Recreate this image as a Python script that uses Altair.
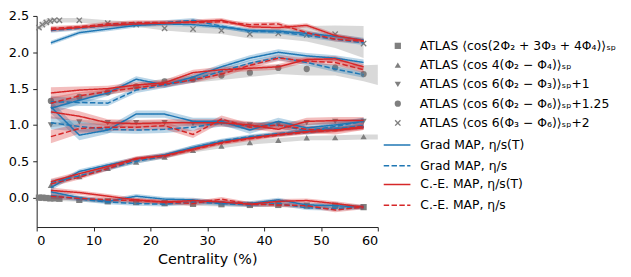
import altair as alt
import pandas as pd

# ---------------- data ----------------
cent = [2.5, 7.5, 12.5, 17.5, 22.5, 27.5, 32.5, 37.5, 42.5, 47.5, 52.5, 57.5]

models = ["Grad MAP, η/s(T)", "Grad MAP, η/s", "C.-E. MAP, η/s(T)", "C.-E. MAP, η/s"]
model_colors = ["#1f77b4", "#1f77b4", "#d62728", "#d62728"]
dash_pair = [[1, 0], [5.5, 2.4]]

obs = [
    "ATLAS ⟨cos(2Φ₂ + 3Φ₃ + 4Φ₄)⟩ₛₚ",
    "ATLAS ⟨cos 4(Φ₂ − Φ₄)⟩ₛₚ",
    "ATLAS ⟨cos 6(Φ₂ − Φ₃)⟩ₛₚ+1",
    "ATLAS ⟨cos 6(Φ₂ − Φ₆)⟩ₛₚ+1.25",
    "ATLAS ⟨cos 6(Φ₃ − Φ₆)⟩ₛₚ+2",
]
X_PATH = "M-1,-0.7L-0.7,-1L0,-0.3L0.7,-1L1,-0.7L0.3,0L1,0.7L0.7,1L0,0.3L-0.7,1L-1,0.7L-0.3,0Z"
obs_shapes = ["square", "triangle-up", "triangle-down", "circle", X_PATH]

# model curves: [Grad T, Grad, CE T, CE]
sq_model = [
    [0.08, 0.00, -0.05, 0.02, -0.02, -0.03, -0.07, -0.08, -0.03, -0.10, -0.11, -0.13],
    [0.03, -0.02, -0.06, -0.08, -0.09, -0.06, -0.08, -0.10, -0.08, -0.14, -0.15, -0.13],
    [0.10, 0.07, 0.02, -0.03, -0.06, -0.04, -0.06, -0.09, -0.05, -0.04, -0.08, -0.13],
    [0.02, -0.01, -0.03, -0.04, -0.06, -0.08, -0.02, -0.09, -0.10, -0.11, -0.17, -0.13],
]
sq_err = [0.04, 0.03, 0.03, 0.03, 0.03, 0.03, 0.03, 0.03, 0.03, 0.03, 0.03, 0.03]

t24_model = [
    [0.14, 0.36, 0.45, 0.53, 0.59, 0.69, 0.77, 0.83, 0.87, 0.91, 0.94, 0.97],
    [0.21, 0.30, 0.40, 0.50, 0.57, 0.69, 0.78, 0.84, 0.88, 0.92, 0.95, 0.99],
    [0.22, 0.33, 0.43, 0.54, 0.58, 0.67, 0.76, 0.82, 0.87, 0.91, 0.93, 0.96],
    [0.19, 0.28, 0.40, 0.53, 0.57, 0.66, 0.75, 0.81, 0.86, 0.90, 0.93, 0.98],
]
t24_err = [0.04, 0.03, 0.03, 0.03, 0.03, 0.03, 0.03, 0.03, 0.03, 0.03, 0.03, 0.03]

d23_model = [
    [1.25, 0.86, 0.93, 1.15, 1.15, 1.05, 1.05, 0.93, 1.05, 0.96, 1.00, 1.05],
    [1.03, 0.98, 0.94, 0.93, 0.94, 0.97, 1.03, 0.98, 1.00, 0.92, 0.98, 1.05],
    [1.18, 1.12, 1.03, 1.02, 1.03, 1.03, 1.03, 1.00, 0.94, 1.05, 1.06, 1.06],
    [0.84, 0.95, 0.97, 0.97, 0.99, 0.87, 1.08, 0.97, 1.00, 0.94, 0.92, 0.98],
]
d23_err = [0.09, 0.07, 0.05, 0.05, 0.05, 0.05, 0.05, 0.05, 0.05, 0.05, 0.05, 0.05]

c26_model = [
    [1.23, 1.34, 1.44, 1.63, 1.55, 1.66, 1.80, 1.92, 2.00, 1.95, 1.92, 1.86],
    [1.32, 1.31, 1.30, 1.48, 1.55, 1.62, 1.74, 1.85, 1.93, 1.86, 1.77, 1.69],
    [1.44, 1.48, 1.50, 1.55, 1.58, 1.72, 1.76, 1.78, 1.80, 1.90, 1.91, 1.80],
    [1.30, 1.40, 1.46, 1.51, 1.56, 1.62, 1.70, 1.82, 1.92, 1.88, 1.86, 1.76],
]
c26_err = [0.08, 0.05, 0.04, 0.04, 0.04, 0.04, 0.04, 0.04, 0.04, 0.04, 0.04, 0.04]

x36_model = [
    [2.13, 2.27, 2.32, 2.37, 2.39, 2.38, 2.35, 2.30, 2.29, 2.26, 2.22, 2.17],
    [2.30, 2.33, 2.37, 2.39, 2.41, 2.44, 2.36, 2.29, 2.28, 2.23, 2.18, 2.13],
    [2.31, 2.34, 2.37, 2.39, 2.40, 2.42, 2.44, 2.35, 2.34, 2.37, 2.23, 2.16],
    [2.33, 2.35, 2.39, 2.41, 2.41, 2.41, 2.42, 2.38, 2.39, 2.27, 2.18, 2.15],
]
x36_err = [0.03, 0.03, 0.03, 0.03, 0.03, 0.03, 0.03, 0.03, 0.03, 0.03, 0.03, 0.03]

# ATLAS data (with offsets applied)
fine_x = [0.4, 1.0, 1.7, 2.4, 3.1, 4.0]
main_x = [7.5, 12.5, 17.5, 22.5, 27.5, 32.5, 37.5, 42.5, 47.5, 52.5, 57.5]

sq_x = fine_x + main_x
sq_val = [0.0, 0.0, -0.005, -0.01, -0.01, -0.015, -0.03, -0.05, -0.06, -0.075, -0.085,
          -0.09, -0.10, -0.10, -0.11, -0.11, -0.13]
sq_lo = [-0.03, -0.03, -0.035, -0.04, -0.04, -0.045, -0.055, -0.075, -0.085, -0.10, -0.11,
         -0.12, -0.13, -0.13, -0.14, -0.14, -0.16]
sq_hi = [0.03, 0.03, 0.025, 0.02, 0.02, 0.015, -0.005, -0.025, -0.035, -0.05, -0.06,
         -0.06, -0.07, -0.07, -0.08, -0.08, -0.10]

t24_x = cent
t24_val = [0.17, 0.29, 0.405, 0.49, 0.56, 0.65, 0.71, 0.76, 0.79, 0.825, 0.826, 0.84]
t24_bx = cent + [60.0]
t24_lo = [0.15, 0.27, 0.38, 0.47, 0.54, 0.62, 0.68, 0.73, 0.76, 0.79, 0.79, 0.80, 0.80]
t24_hi = [0.19, 0.31, 0.43, 0.51, 0.58, 0.68, 0.74, 0.79, 0.82, 0.85, 0.86, 0.87, 0.87]

d23_x = cent
d23_val = [1.00, 1.04, 1.03, 1.03, 1.03, 1.02, 1.03, 1.00, 1.01, 1.03, 1.05, 1.05]
d23_bx = cent
d23_lo = [0.97, 1.01, 1.00, 1.00, 1.00, 0.99, 1.00, 0.97, 0.98, 1.00, 1.02, 1.02]
d23_hi = [1.03, 1.07, 1.06, 1.06, 1.06, 1.05, 1.06, 1.03, 1.04, 1.06, 1.08, 1.08]

c26_x = cent
c26_val = [1.33, 1.385, 1.45, 1.53, 1.60, 1.63, 1.68, 1.72, 1.785, 1.77, 1.79, 1.70]
c26_bx = cent + [60.0]
c26_lo = [1.29, 1.35, 1.41, 1.49, 1.56, 1.58, 1.62, 1.66, 1.70, 1.68, 1.68, 1.60, 1.55]
c26_hi = [1.37, 1.42, 1.49, 1.57, 1.64, 1.68, 1.74, 1.79, 1.83, 1.83, 1.84, 1.82, 1.83]

x36_x = fine_x + main_x
x36_val = [2.34, 2.38, 2.41, 2.43, 2.44, 2.44, 2.44, 2.40, 2.38, 2.33, 2.32, 2.30,
           2.25, 2.26, 2.24, 2.25, 2.12]
x36_lo = [2.30, 2.33, 2.36, 2.39, 2.41, 2.41, 2.41, 2.37, 2.35, 2.30, 2.27, 2.25,
          2.19, 2.19, 2.15, 2.06, 1.92]
x36_hi = [2.39, 2.43, 2.46, 2.47, 2.47, 2.47, 2.47, 2.44, 2.42, 2.37, 2.37, 2.35,
          2.31, 2.33, 2.36, 2.37, 2.36]

# ---------------- tables ----------------
model_groups = [("sq", sq_model, sq_err), ("t24", t24_model, t24_err),
                ("d23", d23_model, d23_err), ("c26", c26_model, c26_err),
                ("x36", x36_model, x36_err)]
rows = []
for g, curves, err in model_groups:
    for m, vals in zip(models, curves):
        for x, v, e in zip(cent, vals, err):
            rows.append({"x": x, "y": v, "lo": v - e, "hi": v + e, "model": m, "grp": g})
df_model = pd.DataFrame(rows)
df_grad = df_model[df_model["model"].isin(models[:2])]
df_ce = df_model[df_model["model"].isin(models[2:])]

pts = []
for o, xs, vs in zip(obs, [sq_x, t24_x, d23_x, c26_x, x36_x],
                     [sq_val, t24_val, d23_val, c26_val, x36_val]):
    for x, v in zip(xs, vs):
        pts.append({"x": x, "y": v, "obs": o})
df_pts = pd.DataFrame(pts)

bands = []
for o, xs, los, his in zip(obs, [sq_x, t24_bx, d23_bx, c26_bx, x36_x],
                           [sq_lo, t24_lo, d23_lo, c26_lo, x36_lo],
                           [sq_hi, t24_hi, d23_hi, c26_hi, x36_hi]):
    for x, lo, hi in zip(xs, los, his):
        bands.append({"x": x, "lo": lo, "hi": hi, "obs": o})
df_band = pd.DataFrame(bands)

# ---------------- chart ----------------
xscale = alt.Scale(domain=[0, 60], nice=False, zero=False)
yscale = alt.Scale(domain=[-0.404, 2.5], nice=False, zero=False)
xaxis = alt.Axis(title="Centrality (%)", values=[0, 10, 20, 30, 40, 50, 60], grid=False,
                 titlePadding=5, titleFontSize=14.5)
yaxis = alt.Axis(title=None, values=[0, 0.5, 1.0, 1.5, 2.0, 2.5], format=".1f", grid=False)

gray_band = alt.Chart(df_band).mark_area(color="#808080", opacity=0.3).encode(
    x=alt.X("x:Q", scale=xscale, axis=xaxis),
    y=alt.Y("lo:Q", scale=yscale, axis=yaxis),
    y2="hi:Q",
    detail="obs:N",
)

points = alt.Chart(df_pts).mark_point(filled=True, color="#7f7f7f", opacity=1, size=40).encode(
    x=alt.X("x:Q", scale=xscale),
    y=alt.Y("y:Q", scale=yscale),
    shape=alt.Shape("obs:N", scale=alt.Scale(domain=obs, range=obs_shapes),
                    legend=alt.Legend(title=None, orient="none", legendX=359, legendY=24,
                                      labelFontSize=12.5, labelOffset=16, rowPadding=6.5,
                                      symbolFillColor="#7f7f7f", symbolStrokeWidth=0,
                                      symbolSize=40, labelLimit=400, padding=0)),
)

model_band = alt.Chart(df_model).mark_area(opacity=0.3).encode(
    x=alt.X("x:Q", scale=xscale),
    y=alt.Y("lo:Q", scale=yscale),
    y2="hi:Q",
    fill=alt.Fill("model:N", scale=alt.Scale(domain=models, range=model_colors), legend=None),
    detail="grp:N",
)


def line_layer(df, doms, color, ly):
    leg = alt.Legend(title=None, orient="none", legendX=350, legendY=ly,
                     labelFontSize=12.5, labelOffset=9, rowPadding=-7,
                     symbolType="stroke", symbolSize=729, symbolStrokeWidth=1.5,
                     symbolStrokeColor=color, labelLimit=400, padding=0)
    return alt.Chart(df).mark_line(strokeWidth=1.5, color=color).encode(
        x=alt.X("x:Q", scale=xscale),
        y=alt.Y("y:Q", scale=yscale),
        strokeDash=alt.StrokeDash("model:N", scale=alt.Scale(domain=doms, range=dash_pair),
                                  legend=leg),
        detail="grp:N",
    )


lines_grad = line_layer(df_grad, models[:2], "#1f77b4", 116)
lines_ce = line_layer(df_ce, models[2:], "#d62728", 156)

chart = alt.layer(gray_band, points, model_band, lines_grad, lines_ce).resolve_scale(
    strokeDash="independent"
).properties(
    width=345, height=213.5,
    autosize=alt.AutoSizeParams(type="none"),
    padding={"left": 29, "top": 6.5, "right": 248, "bottom": 48},
).configure(
    font="DejaVu Sans",
).configure_view(
    stroke=None,
).configure_axis(
    labelFontSize=13, titleFontSize=14.5, labelColor="#000000", titleColor="#000000",
    domainColor="#222222", tickColor="#222222", tickSize=4, labelPadding=4,
    titleFontWeight="normal", domainWidth=1, tickWidth=1,
).configure_legend(
    labelColor="#000000", labelFont="DejaVu Sans",
)

chart.save("out.html", embed_options={"renderer": "svg", "actions": False})
